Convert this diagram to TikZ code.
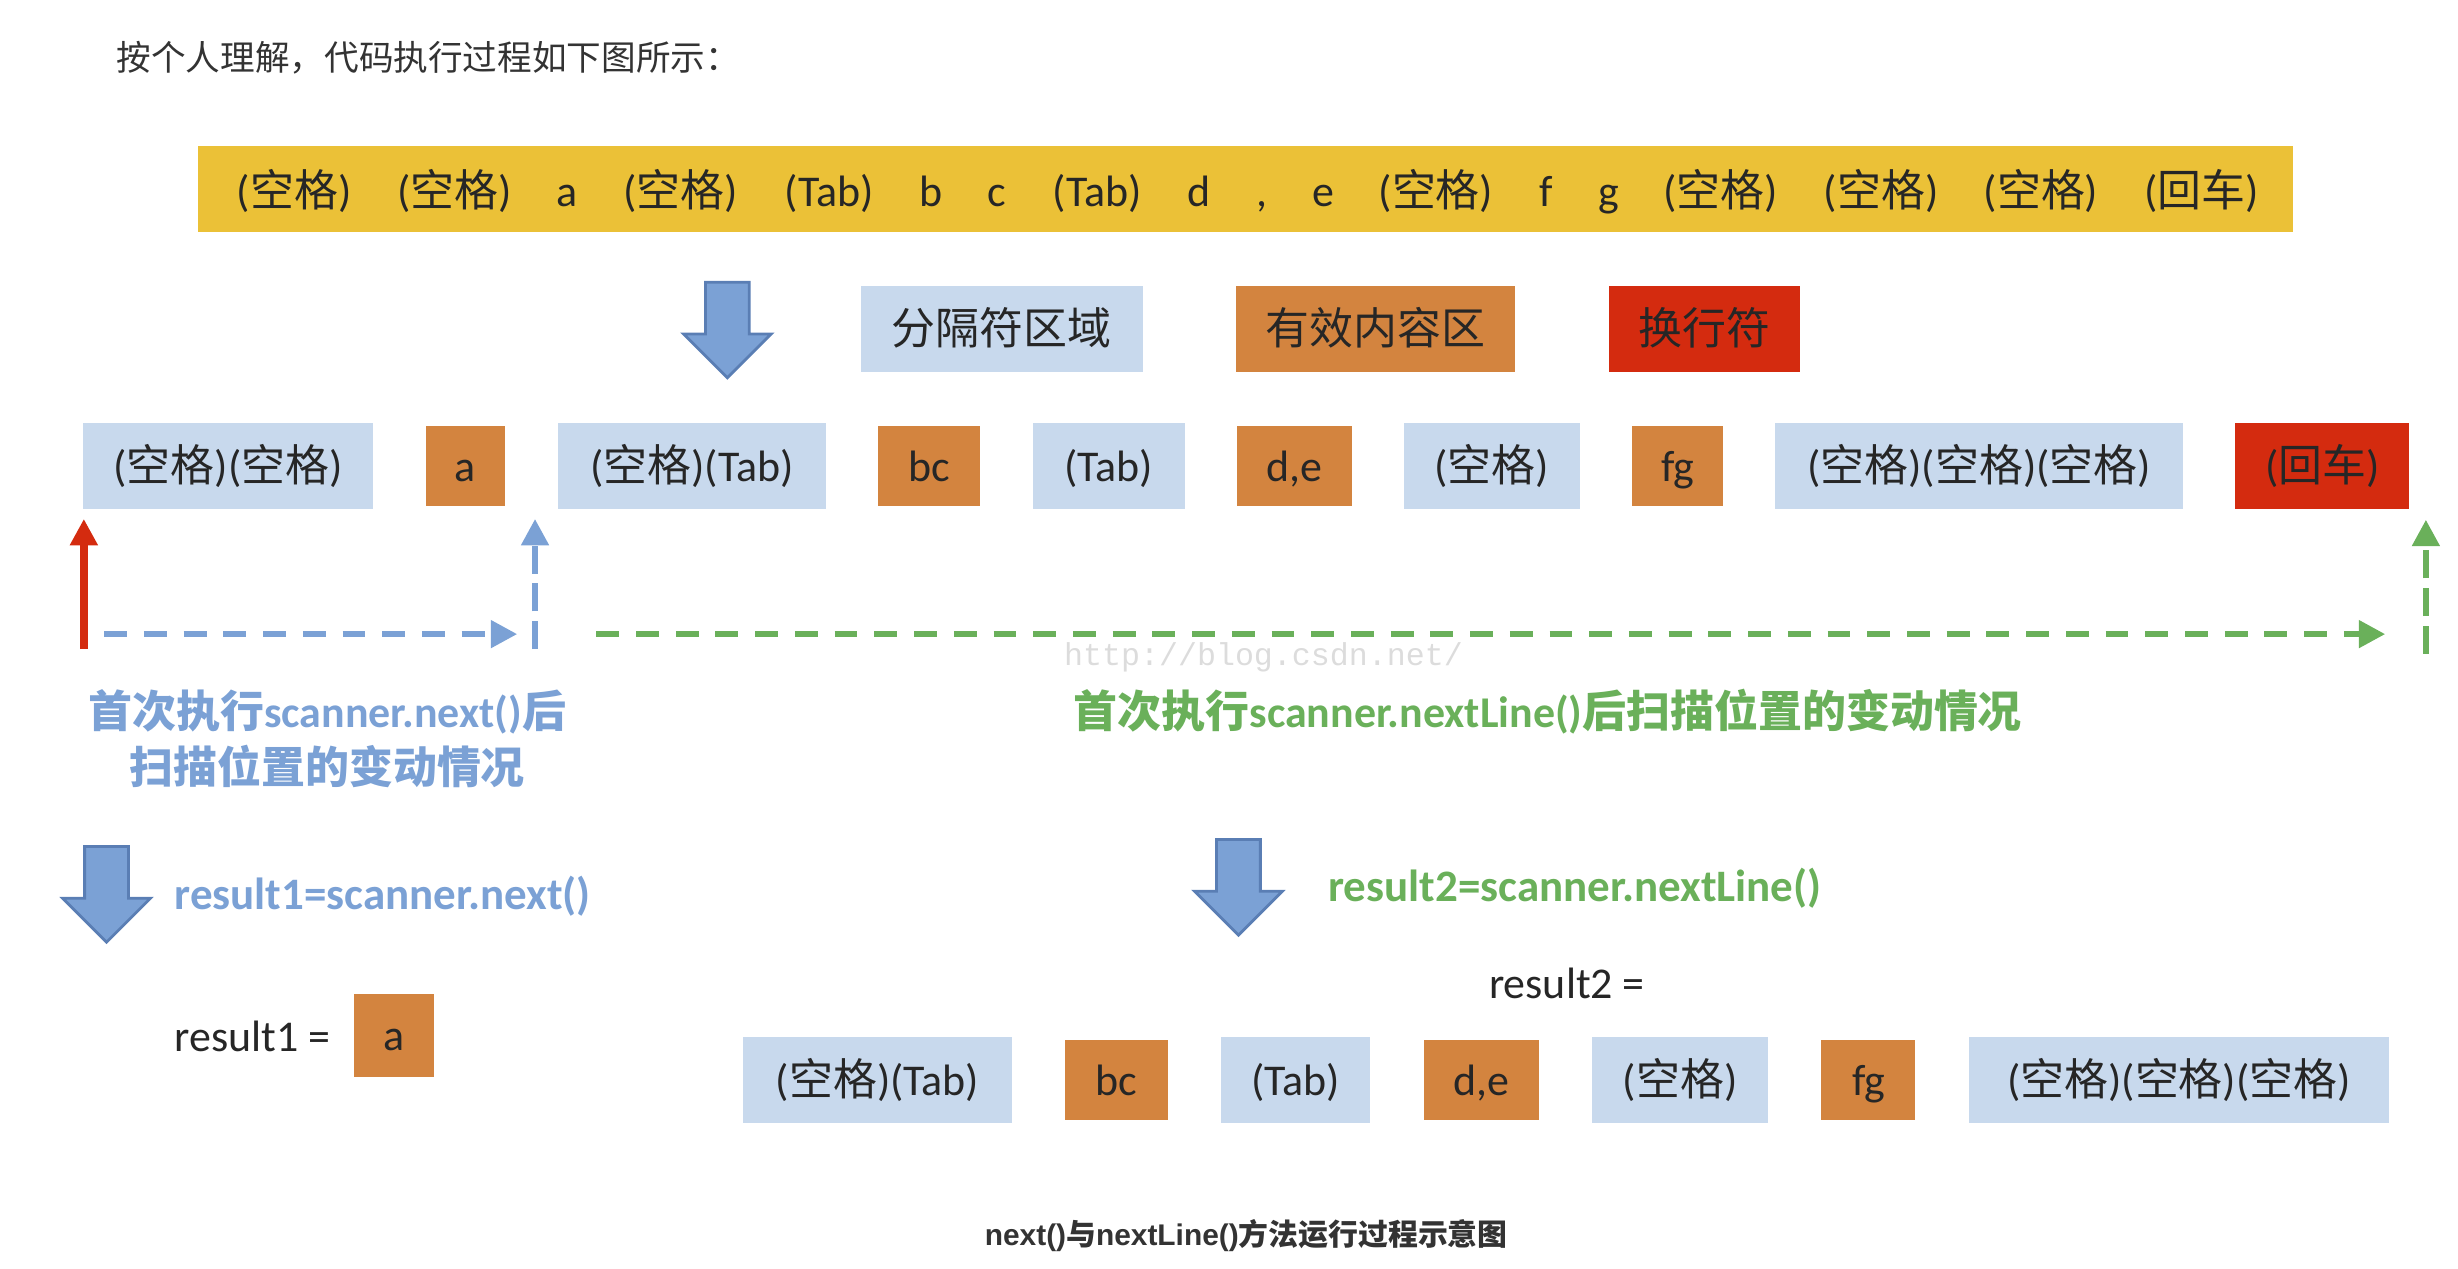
\documentclass[tikz,border=0pt]{standalone}
\usepackage{fontspec}
\setmainfont{Carlito}
\newfontfamily\cjk{Noto Sans CJK SC}
\newfontfamily\capfont{Liberation Sans}
\newfontfamily\webfont{Liberation Mono}
\usetikzlibrary{positioning,arrows.meta}

\definecolor{barYellow}{HTML}{EBC137}
\definecolor{gapBlue}{HTML}{C8D9ED}
\definecolor{wordOrange}{HTML}{D3843F}
\definecolor{eolRed}{HTML}{D42B0F}
\definecolor{arrBlue}{HTML}{7BA1D5}
\definecolor{arrEdge}{HTML}{5A7EB4}
\definecolor{runGreen}{HTML}{6AB05A}
\definecolor{inkGray}{HTML}{262626}
\definecolor{introGray}{HTML}{333333}
\definecolor{wmGray}{HTML}{DCDCDC}

\newcommand{\zh}[1]{{\cjk #1}}
\newcommand{\kg}{(\zh{空格})}
\newcommand{\hc}{(\zh{回车})}
\newcommand{\pu}{0.15676mm}

\tikzset{
  boxfont/.style={font=\fontsize{12.5}{15}\selectfont},
  gapbox/.style={boxfont, fill=gapBlue, text=inkGray, inner sep=0pt,
    minimum height=55*\pu, text height=11pt, text depth=2.5pt},
  wordbox/.style={gapbox, fill=wordOrange, minimum height=51*\pu},
  eolbox/.style={gapbox, fill=eolRed},
  bw/.style={minimum width=#1*\pu},
  tok/.style={boxfont, text=inkGray, anchor=base, inner sep=0pt},
  note/.style={anchor=base, inner sep=0pt, font=\bfseries\fontsize{12.5}{15}\selectfont},
  call/.style={note, anchor=base west, font=\bfseries\fontsize{12.8}{15}\selectfont},
  plain/.style={anchor=base west, inner sep=0pt, boxfont, text=inkGray},
  bigarrow/.style={fill=arrBlue, draw=arrEdge, line width=0.8pt, line join=miter},
  scanline/.style={line width=1.8pt, -{Triangle[length=7.5pt,width=7.5pt]}},
  hdash/.style={dash pattern=on 6.5pt off 4.8pt},
  vdash/.style={dash pattern=on 8pt off 2.7pt}
}

\begin{document}
\begin{tikzpicture}[x=\pu, y=-\pu, node distance=5.1mm]
  \useasboundingbox (0,0) rectangle (1568,809.5);

  \node[anchor=base west, inner sep=0pt, text=introGray, font=\cjk\fontsize{9.85}{12}\selectfont] (intro) at (74,45) {按个人理解，代码执行过程如下图所示：};

  % input line
  \node[fill=barYellow, minimum width=1337*\pu, minimum height=55*\pu, inner sep=0pt] (bar) at (794.5,120.5) {};
  \foreach \tx/\tl [count=\i] in {187.7/\kg, 290/\kg, 362/a, 434/\kg, 529/(Tab), 594/b, 636/c, 700/(Tab), 765/d, 805/{,}, 844/e, 916/\kg, 986.5/f, 1026/g, 1097.5/\kg, 1200/\kg, 1302/\kg, 1404.6/\hc}
    \node[tok] (t\i) at (\tx,132) {\tl};

  \foreach \ax/\ay in {464/180, 68/540, 790/535.5}
    \draw[bigarrow] (\ax-14,\ay) -- ++(28,0) -- ++(0,33) -- ++(14,0) -- (\ax,\ay+61) -- (\ax-28,\ay+33) -- ++(14,0) -- cycle;

  % legend
  \node[gapbox, bw=180] (lgap) at (639,210) {\zh{分隔符区域}};
  \node[wordbox, bw=178, minimum height=55*\pu, right=9.2mm of lgap] (lword) {\zh{有效内容区}};
  \node[eolbox, bw=122, right=9.2mm of lword] (leol) {\zh{换行符}};

  % split line
  \node[gapbox, bw=185] (k1) at (145.5,297.5) {\kg\kg};
  \node[wordbox, bw=51, right=of k1] (k2) {a};
  \node[gapbox, bw=171, right=of k2] (k3) {\kg(Tab)};
  \node[wordbox, bw=65, right=of k3] (k4) {bc};
  \node[gapbox, bw=97, right=of k4] (k5) {(Tab)};
  \node[wordbox, bw=73, right=of k5] (k6) {d,e};
  \node[gapbox, bw=112, right=of k6] (k7) {\kg};
  \node[wordbox, bw=58, right=of k7] (k8) {fg};
  \node[gapbox, bw=260, right=of k8] (k9) {\kg\kg\kg};
  \node[eolbox, bw=111, right=of k9] (k10) {\hc};

  % scan positions
  \coordinate (r0) at (53.5,414);
  \coordinate (r1) at (53.5,331);
  \coordinate (b0) at (66.5,404.5);
  \coordinate (b1) at (330,404.5);
  \coordinate (v0) at (341.3,414);
  \coordinate (v1) at (341.3,331);
  \coordinate (g0) at (380.4,404.5);
  \coordinate (g1) at (1521.6,404.5);
  \coordinate (w0) at (1547.5,417);
  \coordinate (w1) at (1547.5,331.5);

  \draw[scanline, eolRed, line width=2.2pt] (r0) -- (r1);
  \draw[scanline, arrBlue, hdash] (b0) -- (b1);
  \draw[scanline, arrBlue, vdash] (v0) -- (v1);
  \draw[scanline, runGreen, hdash] (g0) -- (g1);
  \draw[scanline, runGreen, vdash] (w0) -- (w1);

  \node[text=wmGray, font=\webfont\fontsize{9}{10}\selectfont, inner sep=0pt] (wm) at (806,419) {http://blog.csdn.net/};

  \node[note, text=arrBlue] (nexta) at (208.7,464) {\zh{首次执行}scanner.next()\zh{后}};
  \node[note, text=arrBlue] (nextb) at (208.7,500) {\zh{扫描位置的变动情况}};
  \node[note, text=runGreen] (linea) at (987.4,464) {\zh{首次执行}scanner.nextLine()\zh{后扫描位置的变动情况}};

  % results
  \node[call, text=arrBlue] (call1) at (111,580) {result1=scanner.next()};
  \node[plain] (res1) at (111,671) {result1 =};
  \node[wordbox, bw=51, minimum height=53*\pu] (ra) at (251.5,660.5) {a};

  \node[call, text=runGreen] (call2) at (847,575) {result2=scanner.nextLine()};
  \node[plain] (res2) at (949.5,637) {result2 =};

  \node[gapbox, bw=171.5] (m1) at (559.8,689) {\kg(Tab)};
  \node[wordbox, bw=65.5, right=5.2mm of m1] (m2) {bc};
  \node[gapbox, bw=95, right=5.2mm of m2] (m3) {(Tab)};
  \node[wordbox, bw=73.5, right=5.2mm of m3] (m4) {d,e};
  \node[gapbox, bw=112, right=5.2mm of m4] (m5) {\kg};
  \node[wordbox, bw=60, right=5.2mm of m5] (m6) {fg};
  \node[gapbox, bw=268, right=5.2mm of m6] (m7) {\kg\kg\kg};

  \node[anchor=base, inner sep=0pt, text=introGray, font=\capfont\bfseries\fontsize{8.5}{10}\selectfont] (cap) at (795,794.5) {next()\zh{与}nextLine()\zh{方法运行过程示意图}};
\end{tikzpicture}
\end{document}
